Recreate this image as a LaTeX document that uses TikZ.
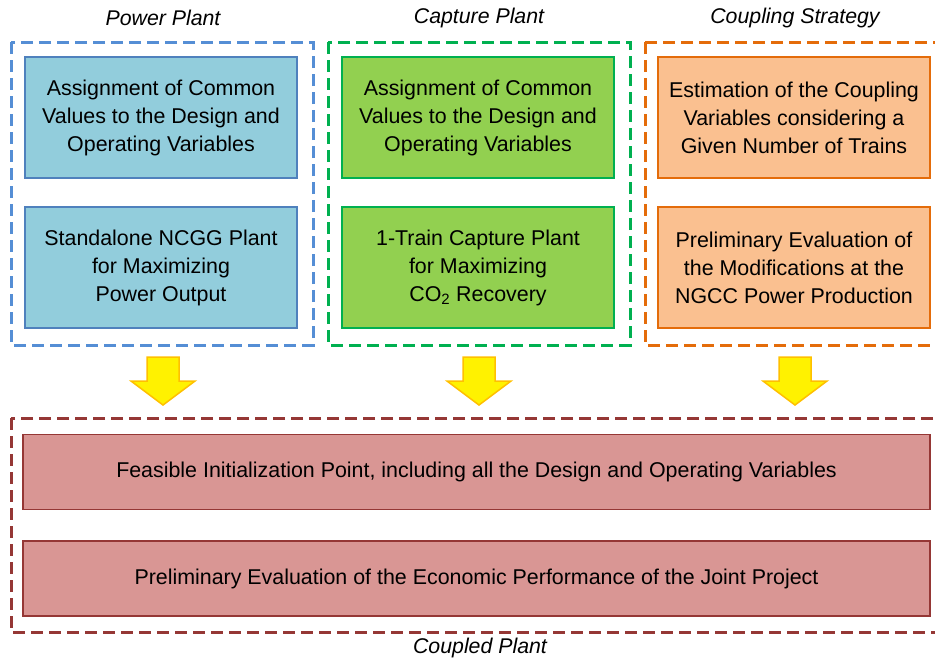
\documentclass[tikz,border=0pt]{standalone}
\usepackage{fontspec}
\setmainfont{Liberation Sans}
\usetikzlibrary{positioning}
\definecolor{bluefill}{HTML}{92CDDC}
\definecolor{blueedge}{HTML}{4F81BD}
\definecolor{bluedash}{HTML}{558ED5}
\definecolor{greenfill}{HTML}{92D050}
\definecolor{greenedge}{HTML}{00B050}
\definecolor{orangefill}{HTML}{FAC090}
\definecolor{orangeedge}{HTML}{E46C0A}
\definecolor{redfill}{HTML}{D99694}
\definecolor{rededge}{HTML}{953735}
\definecolor{arrowedge}{HTML}{FFC000}
\tikzset{
  procbox/.style={draw, line width=1.5pt, minimum width=272pt, minimum height=121pt, align=center, inner sep=2pt,
    font=\fontsize{21.4}{28}\selectfont},
  widebox/.style={draw, line width=1.5pt, minimum width=907pt, minimum height=75pt, align=center,
    font=\fontsize{21.4}{28}\selectfont},
  group/.style={dashed, line width=3pt, dash pattern=on 12pt off 6pt},
  grouplabel/.style={font=\fontsize{21.3}{24}\selectfont\itshape},
  bigarrow/.style={fill=yellow, draw=arrowedge, line width=1.5pt, line join=miter}
}
\begin{document}
\begin{tikzpicture}[x=1pt,y=-1pt]
\useasboundingbox (0,0) rectangle (935,662);
\clip (0,0) rectangle (935,662);
% group frames
\draw[group, bluedash] (11,42) rectangle (313,345);
\draw[group, greenedge] (328,42) rectangle (630,345);
\draw[group, orangeedge] (645,42) rectangle (960,345);
\draw[group, rededge] (11,418) rectangle (960,632);
% labels
\node[grouplabel] (lpp) at (163,18) {Power Plant};
\node[grouplabel] (lcp) at (479,18) {Capture Plant};
\node[grouplabel] (lcs) at (795,18) {Coupling Strategy};
\node[grouplabel] (lcup) at (480,648) {Coupled Plant};
% power plant
\node[procbox, fill=bluefill, draw=blueedge] (p1) at (161,117.5) {Assignment of Common\\Values to the Design and\\Operating Variables};
\node[procbox, fill=bluefill, draw=blueedge] (p2) at (161,267.5) {Standalone NCGG Plant\\for Maximizing\\Power Output};
% capture plant
\node[procbox, fill=greenfill, draw=greenedge] (c1) at (478,117.5) {Assignment of Common\\Values to the Design and\\Operating Variables};
\node[procbox, fill=greenfill, draw=greenedge] (c2) at (478,267.5) {1-Train Capture Plant\\for Maximizing\\CO\textsubscript{2} Recovery};
% coupling strategy
\node[procbox, fill=orangefill, draw=orangeedge] (s1) at (794,117.5) {Estimation of the Coupling\\Variables considering a\\Given Number of Trains};
\node[procbox, fill=orangefill, draw=orangeedge] (s2) at (794,267.5) {Preliminary Evaluation of\\the Modifications at the\\NGCC Power Production};
% coupled plant
\node[widebox, fill=redfill, draw=rededge] (r1) at (476.5,472) {Feasible Initialization Point, including all the Design and Operating Variables};
\node[widebox, fill=redfill, draw=rededge] (r2) at (476.5,578.5) {Preliminary Evaluation of the Economic Performance of the Joint Project};
% block arrows
\foreach \cx in {163,479,795}{
  \draw[bigarrow] (\cx-16,357) -- (\cx+16,357) -- (\cx+16,381) -- (\cx+32,381) -- (\cx,405) -- (\cx-32,381) -- (\cx-16,381) -- cycle;
}
\end{tikzpicture}
\end{document}
